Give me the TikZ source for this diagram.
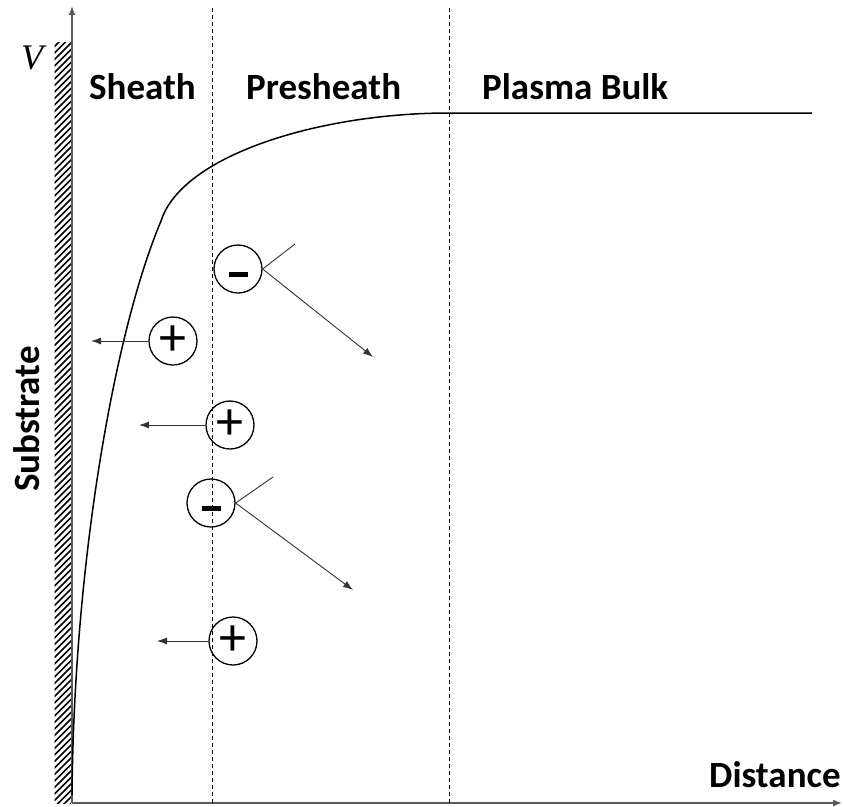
\documentclass[tikz,border=0pt]{standalone}
\usepackage{fontspec}
\setmainfont{Carlito}
\newfontfamily\vfont{Liberation Serif}
\usetikzlibrary{arrows.meta}
\definecolor{axisgray}{HTML}{5A5A5A}
\definecolor{arrgray}{HTML}{333333}
\tikzset{
  lbl/.style={font=\fontsize{37}{40}\selectfont\bfseries, inner sep=0pt, anchor=base west},
  axisline/.style={line width=1.5pt, draw=axisgray, -{Latex[length=9pt,width=7pt]}},
  divider/.style={line width=1pt, dash pattern=on 4pt off 3pt},
  ion/.style={circle, draw, line width=1.3pt, minimum size=48pt, inner sep=0pt},
  posion/.style={ion, font=\fontsize{54}{54}\selectfont},
  negion/.style={ion, text height=2.5pt, text depth=2.5pt},
  move/.style={line width=0.9pt, draw=arrgray, -{Latex[length=10pt,width=7pt]}},
  trace/.style={line width=0.9pt, draw=arrgray},
  vcurve/.style={line width=1.5pt}
}
\begin{document}
\begin{tikzpicture}[x=1pt,y=-1pt]
\useasboundingbox (0,0) rectangle (843,806);
% substrate hatch
\begin{scope}
  \clip (54.5,42) rectangle (71,803);
  \foreach \y in {30,36.5,...,830} {
    \draw[line width=1.7pt] (54,\y+17) -- (72,\y-1);
  }
\end{scope}
% axes
\coordinate (o) at (72,803);
\coordinate (ytop) at (72,6);
\coordinate (xend) at (842,803);
\draw[axisline] (o) -- (ytop);
\draw[axisline] (o) -- (xend);
% dividers
\coordinate (d1t) at (212,8); \coordinate (d1b) at (212,803);
\coordinate (d2t) at (449,8); \coordinate (d2b) at (449,803);
\draw[divider] (d1t) -- (d1b);
\draw[divider] (d2t) -- (d2b);
% potential curve
\coordinate (c0) at (72,795);
\coordinate (c1) at (161,221);
\coordinate (c2) at (449,113);
\coordinate (c3) at (812,113);
\draw[vcurve] (c0) .. controls (74,560) and (115,330) .. (c1)
  .. controls (182,155) and (320,113) .. (c2) -- (c3);
% labels
\node[lbl] (v) at (21,69) {\fontsize{36}{36}\selectfont\vfont\itshape\mdseries V};
\node[lbl] (sheath) at (89,99) {Sheath};
\node[lbl] (presheath) at (246,99) {Presheath};
\node[lbl] (bulk) at (482,99) {Plasma Bulk};
\node[lbl] (dist) at (709,787) {Distance};
\node[lbl, anchor=base, rotate=90] (sub) at (39,419) {Substrate};
% ions
\node[negion] (m1) at (238,269) {\raisebox{-7.5pt}{\rule{19pt}{5pt}}};
\node[negion] (m2) at (211,503) {\raisebox{-7.5pt}{\rule{19pt}{5pt}}};
\node[posion] (p1) at (173,341) {+};
\node[posion] (p2) at (230,425) {+};
\node[posion] (p3) at (233,641) {+};
% ion paths
\coordinate (m1in) at (295,244);
\coordinate (m1out) at (373,357);
\coordinate (m2in) at (273,477);
\coordinate (m2out) at (353,590);
\draw[trace] (m1.east) -- (m1in);
\draw[move] (m1.east) -- (m1out);
\draw[trace] (m2.east) -- (m2in);
\draw[move] (m2.east) -- (m2out);
\coordinate (p1t) at (91,341);
\coordinate (p2t) at (139,425);
\coordinate (p3t) at (157,641);
\draw[move] (p1.west) -- (p1t);
\draw[move] (p2.west) -- (p2t);
\draw[move] (p3.west) -- (p3t);
\end{tikzpicture}
\end{document}
